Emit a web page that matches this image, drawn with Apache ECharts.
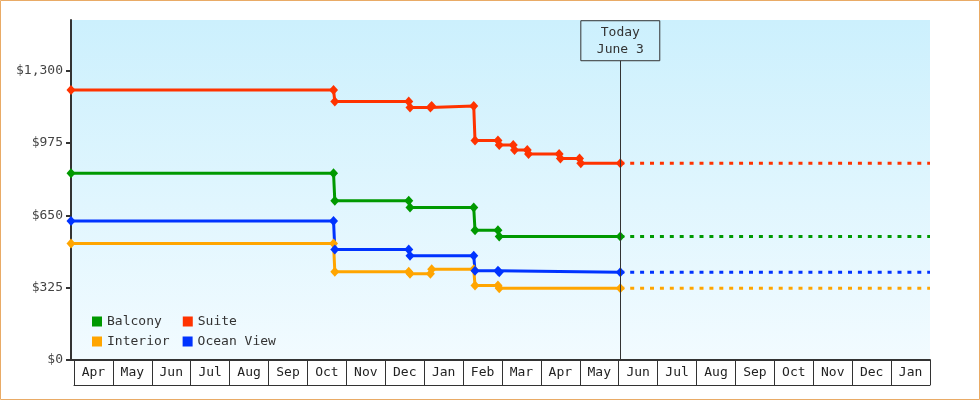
<!DOCTYPE html>
<html>
<head>
<meta charset="utf-8">
<script src="https://cdn.jsdelivr.net/npm/echarts@6/dist/echarts.min.js"></script>
<style>
  html, body { margin: 0; padding: 0; background: #fff; }
  #chart { width: 980px; height: 400px; }
</style>
</head>
<body>
<div id="chart"></div>
<script>
// month strip under the plot
const months = ["Apr", "May", "Jun", "Jul", "Aug", "Sep", "Oct", "Nov", "Dec", "Jan", "Feb",
  "Mar", "Apr", "May", "Jun", "Jul", "Aug", "Sep", "Oct", "Nov", "Dec", "Jan"];
const yTicks = [0, 325, 650, 975, 1300];
const startDate = "2016-03-29";
const endDate = "2018-02-01";
const todayDate = "2017-06-03";

// price history, one point before and after each change
const balconyDates = ["2016-03-29", "2016-10-21", "2016-10-22", "2016-12-19", "2016-12-20",
  "2017-02-08", "2017-02-09", "2017-02-27", "2017-02-28", "2017-06-03"];
const balconyPrices = [839, 839, 716, 716, 685, 685, 583, 583, 555, 555];

const suiteDates = ["2016-03-29", "2016-10-21", "2016-10-22", "2016-12-19", "2016-12-20",
  "2017-01-05", "2017-01-06", "2017-02-08", "2017-02-09", "2017-02-27", "2017-02-28",
  "2017-03-11", "2017-03-12", "2017-03-22", "2017-03-23", "2017-04-16", "2017-04-17",
  "2017-05-02", "2017-05-03", "2017-06-03"];
const suitePrices = [1213, 1213, 1162, 1162, 1135, 1135, 1141, 1141, 986, 986, 966,
  966, 944, 944, 926, 926, 906, 906, 884, 884];

const interiorDates = ["2016-03-29", "2016-10-21", "2016-10-22", "2016-12-19", "2016-12-20",
  "2017-01-05", "2017-01-06", "2017-02-08", "2017-02-09", "2017-02-27", "2017-02-28", "2017-06-03"];
const interiorPrices = [524, 524, 397, 397, 388, 388, 408, 408, 335, 335, 322, 322];

const oceanDates = ["2016-03-29", "2016-10-21", "2016-10-22", "2016-12-19", "2016-12-20",
  "2017-02-08", "2017-02-09", "2017-02-27", "2017-02-28", "2017-06-03"];
const oceanPrices = [625, 625, 497, 497, 469, 469, 401, 401, 394, 394];

const font = "DejaVu Sans Mono";
const toTime = (s) => echarts.time.parse(s).getTime();

function buildSeries(name, color, dates, prices) {
  const last = prices[prices.length - 1];
  return [
    {
      name: name,
      type: "line",
      z: 3,
      data: dates.map((d, i) => [toTime(d), prices[i]]),
      symbol: "diamond",
      symbolSize: [9, 10],
      showAllSymbol: true,
      lineStyle: { width: 3, color: color },
      itemStyle: { color: color },
      emphasis: { disabled: true },
    },
    {
      // projection after today
      name: name,
      type: "line",
      z: 2,
      data: [[toTime(todayDate), last], [toTime(endDate), last]],
      symbol: "none",
      lineStyle: { width: 3, color: color, type: [4, 5.9] },
      itemStyle: { color: color },
      emphasis: { disabled: true },
    },
  ];
}

const series = [].concat(
  buildSeries("Balcony", "#009900", balconyDates, balconyPrices),
  buildSeries("Suite", "#ff3300", suiteDates, suitePrices),
  buildSeries("Interior", "#ffa500", interiorDates, interiorPrices),
  buildSeries("Ocean View", "#0033ff", oceanDates, oceanPrices)
);

// today marker line with its box
series[1].markLine = {
  silent: true,
  symbol: ["none", "none"],
  animation: false,
  lineStyle: { color: "#333", width: 1, type: "solid" },
  label: {
    show: true,
    position: "end",
    distance: 0,
    formatter: "Today\nJune 3",
    fontFamily: font,
    fontSize: 13,
    lineHeight: 17,
    color: "#333",
    borderColor: "#333",
    borderWidth: 1,
    padding: [3, 16, 3, 16],
    align: "center",
  },
  data: [[{ coord: [toTime(todayDate), 0] }, { coord: [toTime(todayDate), 1345] }]],
};

const legendBase = {
  left: 92,
  padding: 0,
  orient: "horizontal",
  selectedMode: false,
  icon: "rect",
  itemWidth: 10,
  itemHeight: 10,
  textStyle: { fontFamily: font, fontSize: 13, color: "#333" },
};

const chart = echarts.init(document.getElementById("chart"));
chart.setOption({
  animation: false,
  backgroundColor: "#fff",
  grid: [
    {
      left: 71, right: 50, top: 20, bottom: 40,
      show: true, borderWidth: 0,
      backgroundColor: new echarts.graphic.LinearGradient(0, 0, 0, 1, [
        { offset: 0, color: "#ccf0fd" },
        { offset: 1, color: "#f2fbff" },
      ]),
    },
    { left: 74, right: 50, top: 360, height: 25 },
  ],
  xAxis: [
    {
      type: "time",
      gridIndex: 0,
      min: toTime(startDate),
      max: toTime(endDate),
      axisLine: { show: true, lineStyle: { color: "#333", width: 2 } },
      axisTick: { show: false },
      axisLabel: { show: false },
      splitLine: { show: false },
    },
    {
      type: "category",
      gridIndex: 1,
      data: months,
      position: "bottom",
      axisLine: { show: true, lineStyle: { color: "#333", width: 1 } },
      axisTick: { show: false },
      splitLine: { show: true, interval: 0, lineStyle: { color: "#333", width: 1 } },
      axisLabel: {
        interval: 0, inside: true, margin: 12, verticalAlign: "middle",
        fontFamily: font, fontSize: 13, color: "#222",
      },
    },
  ],
  yAxis: [
    {
      type: "value",
      gridIndex: 0,
      min: 0,
      max: 1528,
      interval: 325,
      axisLine: { show: true, lineStyle: { color: "#333", width: 2 } },
      axisTick: { show: true, length: 5, lineStyle: { color: "#333", width: 2 }, customValues: yTicks },
      axisLabel: {
        margin: 8, fontFamily: font, fontSize: 13, color: "#444",
        customValues: yTicks,
        formatter: (v) => "$" + v.toLocaleString("en-US"),
      },
      splitLine: { show: false },
    },
    { type: "value", gridIndex: 1, show: false },
  ],
  legend: [
    Object.assign({}, legendBase, { top: 315, itemGap: 21, data: ["Balcony", "Suite"] }),
    Object.assign({}, legendBase, { top: 335, itemGap: 13, data: ["Interior", "Ocean View"] }),
  ],
  graphic: [
    {
      type: "rect",
      silent: true,
      shape: { x: 0.5, y: 0.5, width: 979, height: 399 },
      style: { fill: "none", stroke: "#e9ab66", lineWidth: 1 },
    },
  ],
  series: series,
});
</script>
</body>
</html>
